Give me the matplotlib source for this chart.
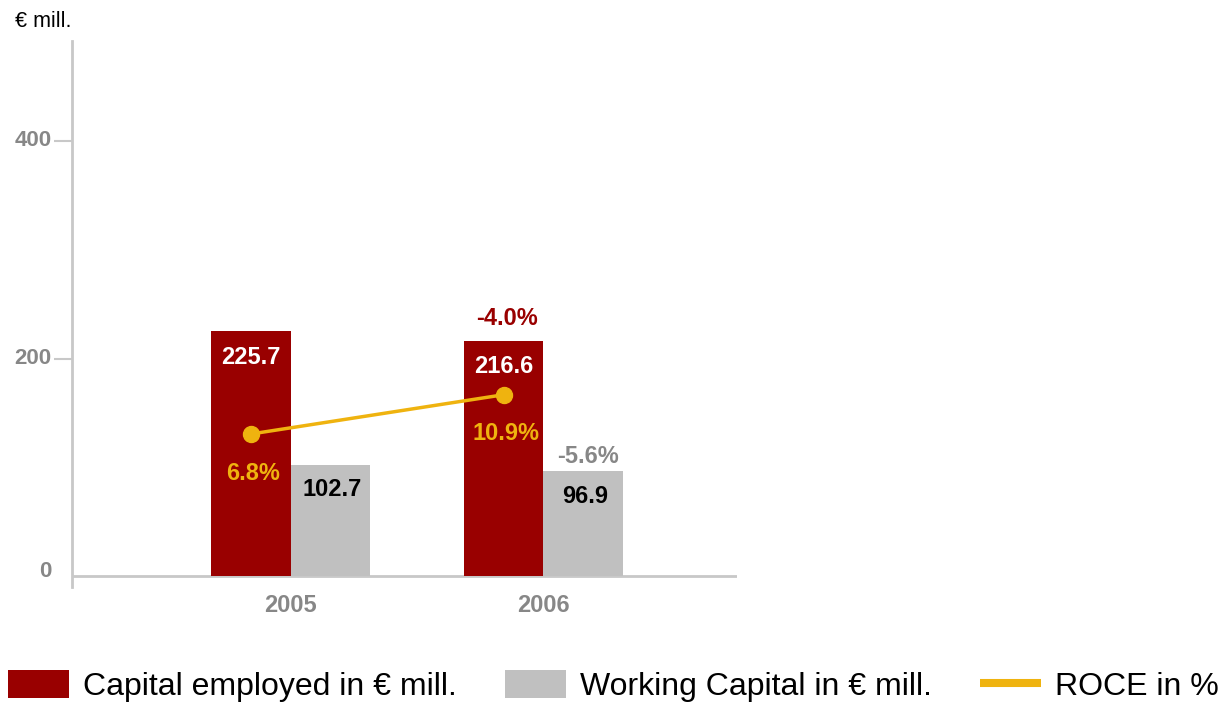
import numpy as np
import matplotlib

matplotlib.use("Agg")
import matplotlib.pyplot as plt
from matplotlib.patches import Patch
from matplotlib.lines import Line2D
from matplotlib.transforms import ScaledTranslation

# data (€ mill. and %)
years = ["2005", "2006"]
capital_employed = [225.7, 216.6]
working_capital = [102.7, 96.9]
roce = [6.8, 10.9]
capital_change = ["", "-4.0%"]
working_change = ["", "-5.6%"]

RED = "#990000"
GREY = "#c0c0c0"
GOLD = "#efb30f"
TEXT_GREY = "#878787"
AXIS_GREY = "#c8c8c8"

plt.rcParams["font.family"] = ["Liberation Sans", "DejaVu Sans"]

W, H = 1221, 707
fig = plt.figure(figsize=(W / 100, H / 100), dpi=100)
ax = fig.add_axes([72 / W, 120 / H, 665 / W, 546 / H])

x = np.arange(len(years))
w = 0.314
ax.bar(x - w / 2, capital_employed, w, color=RED, zorder=2)
ax.bar(x + w / 2, working_capital, w, color=GREY, zorder=2)
ax.set_xlim(-0.864, 1.765)
ax.set_ylim(-9.7, 492.4)
ax.axhline(0, color=AXIS_GREY, lw=2, zorder=1)

for s in ["top", "right", "bottom"]:
    ax.spines[s].set_visible(False)
ax.spines["left"].set_color(AXIS_GREY)
ax.spines["left"].set_linewidth(2)

# labels on major ticks, tick marks only at 200 and 400 (minor)
ax.yaxis.remove_overlapping_locs = False
ax.set_yticks([0, 200, 400])
ax.set_yticks([200, 400], minor=True)
ax.tick_params(axis="y", which="major", length=13, width=0, pad=1.5,
               labelcolor=TEXT_GREY, labelsize=16)
ax.tick_params(axis="y", which="minor", length=13, width=1.5, color=AXIS_GREY,
               labelleft=False)
ax.set_xticks(x, years)
ax.tick_params(axis="x", length=0, pad=5, labelcolor=TEXT_GREY, labelsize=17)
for lab in ax.get_yticklabels() + ax.get_xticklabels():
    lab.set_fontweight("bold")

# nudge the y labels up a little, the zero one a bit more
for i, lab in enumerate(ax.get_yticklabels()):
    dy = 7 if i == 0 else 3
    lab.set_transform(lab.get_transform() + ScaledTranslation(0, dy / 100, fig.dpi_scale_trans))

# value labels inside bars
for xi, v in zip(x, capital_employed):
    ax.annotate(f"{v:.1f}", (xi - w / 2, v), xytext=(0, -26), textcoords="offset pixels",
                ha="center", va="center", color="white", fontsize=17, fontweight="bold")
for xi, v in zip(x, working_capital):
    ax.annotate(f"{v:.1f}", (xi + w / 2, v), xytext=(2, -25), textcoords="offset pixels",
                ha="center", va="center", color="black", fontsize=17, fontweight="bold")

# year-on-year changes above the 2006 bars
for xi, v, t in zip(x, capital_employed, capital_change):
    if t:
        ax.annotate(t, (xi - w / 2, v), xytext=(3, 22), textcoords="offset pixels",
                    ha="center", va="center", color=RED, fontsize=17, fontweight="bold")
for xi, v, t in zip(x, working_capital, working_change):
    if t:
        ax.annotate(t, (xi + w / 2, v), xytext=(5, 15), textcoords="offset pixels",
                    ha="center", va="center", color=TEXT_GREY, fontsize=17, fontweight="bold")

# ROCE on its own (hidden) scale
ax2 = ax.twinx()
ax2.set_ylim(-9.16, 47.8)
ax2.axis("off")
ax2.plot(x - w / 2, roce, color=GOLD, lw=2.5, marker="o", ms=11.5, zorder=3)
for xi, v in zip(x, roce):
    ax2.annotate(f"{v:.1f}%", (xi - w / 2, v), xytext=(2, -39), textcoords="offset pixels",
                 ha="center", va="center", color=GOLD, fontsize=17, fontweight="bold")

fig.text(15 / W, 1 - 27 / H, "€ mill.", fontsize=15.5, va="baseline")

handles = [
    Patch(facecolor=RED, label="Capital employed in € mill."),
    Patch(facecolor=GREY, label="Working Capital in € mill."),
    Line2D([], [], color=GOLD, lw=5.8, solid_capstyle="butt", label="ROCE in %"),
]
fs = 23
px = fs * 100 / 72
fig.legend(handles=handles, loc="center left", bbox_to_anchor=(8 / W, 1 - 686 / H),
           ncol=3, frameon=False, fontsize=fs, borderpad=0, borderaxespad=0,
           handlelength=61 / px, handleheight=31 / px,
           handletextpad=14 / px, columnspacing=48 / px)

fig.savefig("out.png", dpi=100)
